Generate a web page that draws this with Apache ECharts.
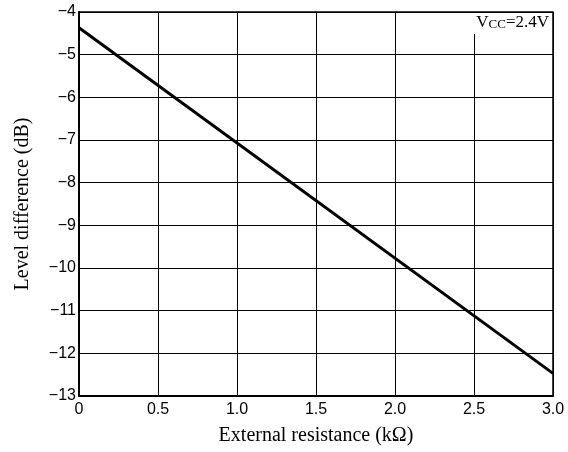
<!DOCTYPE html>
<html>
<head>
<meta charset="utf-8">
<script src="https://cdn.jsdelivr.net/npm/echarts@6/dist/echarts.min.js"></script>
<style>html,body{margin:0;padding:0;background:#fff}#c{width:568px;height:452px}</style>
</head>
<body>
<div id="c"></div>
<script>
var xValues = [0, 3.0];
var levelDiff = [-4.37, -12.47];
var xTicks = [0, 0.5, 1.0, 1.5, 2.0, 2.5, 3.0];
var yTicks = [-13, -12, -11, -10, -9, -8, -7, -6, -5, -4];

var chart = echarts.init(document.getElementById('c'));
var data = xValues.map(function (x, i) { return [x, levelDiff[i]]; });
chart.setOption({
  animation: false,
  backgroundColor: '#fff',
  grid: { left: 79, top: 12, right: 15, bottom: 56, show: true, borderColor: '#000', borderWidth: 1.5, backgroundColor: 'transparent' },
  xAxis: {
    type: 'value', min: 0, max: 3, interval: 0.5,
    name: 'External resistance (kΩ)', nameLocation: 'middle', nameGap: 30,
    nameTextStyle: { fontFamily: 'Liberation Serif', fontSize: 20, color: '#000' },
    axisLine: { show: true, lineStyle: { color: '#000', width: 2 } },
    axisTick: { show: false },
    axisLabel: { fontFamily: 'Liberation Sans', fontSize: 16, color: '#000', margin: 6,
      formatter: function (v) { return v === 0 ? '0' : v.toFixed(1); } },
    splitLine: { show: true, lineStyle: { color: '#000', width: 1 } }
  },
  yAxis: {
    type: 'value', min: -13, max: -4, interval: 1,
    name: 'Level difference (dB)', nameLocation: 'middle', nameGap: 46,
    nameTextStyle: { fontFamily: 'Liberation Serif', fontSize: 20, color: '#000' },
    axisLine: { show: true, lineStyle: { color: '#000', width: 2 } },
    axisTick: { show: false },
    axisLabel: { fontFamily: 'Liberation Sans', fontSize: 16, color: '#000', margin: 3,
      formatter: function (v) { return String(v).replace('-', '\u2212'); } },
    splitLine: { show: true, lineStyle: { color: '#000', width: 1 } }
  },
  graphic: [{
    type: 'text', right: 17, top: 13, z: 100,
    style: {
      text: '{v|V}{s|CC}{v|=2.4V}',
      backgroundColor: '#fff', padding: [1, 2, 3, 3],
      rich: {
        v: { fontFamily: 'Liberation Serif', fontSize: 17, fill: '#000', lineHeight: 17 },
        s: { fontFamily: 'Liberation Serif', fontSize: 13, fill: '#000', padding: [5, 0, 0, 0], lineHeight: 17 }
      }
    }
  }],
  series: [{
    type: 'line', data: data, symbol: 'none',
    lineStyle: { color: '#000', width: 3 }, z: 5
  }]
});
</script>
</body>
</html>
